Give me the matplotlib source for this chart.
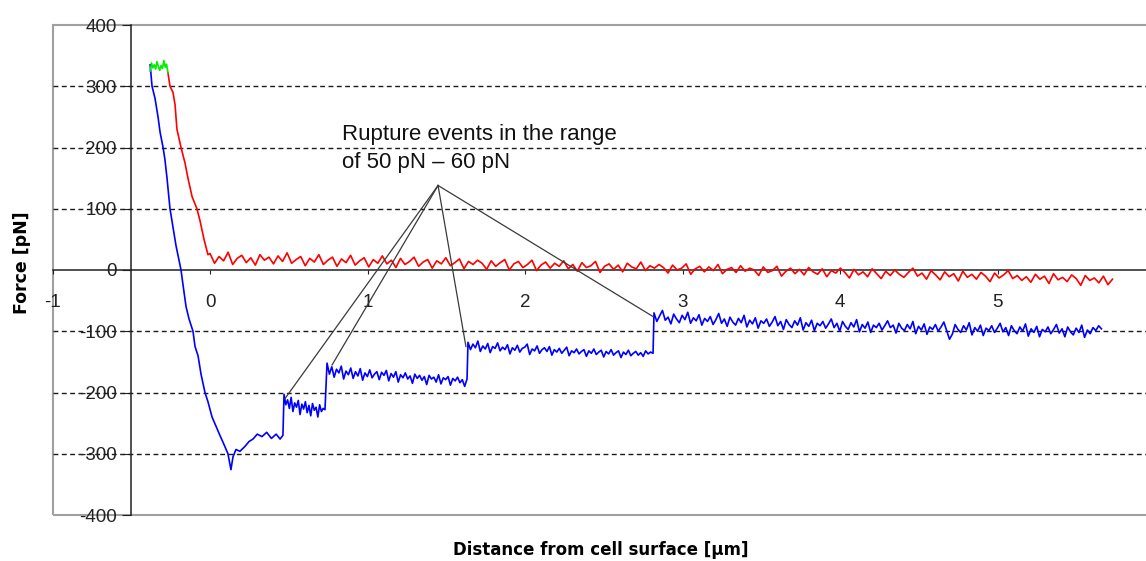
import numpy as np
import matplotlib
matplotlib.use("Agg")
import matplotlib.pyplot as plt
from matplotlib.patches import Rectangle

plt.rcParams["font.family"] = ["Liberation Sans", "DejaVu Sans"]
plt.rcParams["axes.unicode_minus"] = False

# contact plateau (green)
green_x0, green_x1 = -0.38, -0.267
green_y = [325, 338, 330, 335, 328, 340, 332, 326, 334, 329, 342, 331, 336, 322]

# approach curve (red): steep part then noisy tail
red_drop_x = [-0.267, -0.254, -0.235, -0.222, -0.21, -0.184, -0.159, -0.14,
              -0.114, -0.083, -0.063, -0.038, -0.013]
red_drop_y = [322, 300, 290, 270, 230, 200, 175, 150, 120, 100, 80, 50, 25]
red_tail_x0, red_tail_x1 = 0.0, 5.73
red_tail_y = [27, 11, 22, 15, 29, 9, 19, 24, 12, 20, 8, 25, 16, 21, 10, 23, 14, 28, 11, 17,
              22, 7, 19, 13, 25, 9, 16, 21, 6, 18, 12, 24, 8, 15, 20, 5, 17, 11, 23, 10,
              16, 4, 19, 9, 14, 21, 6, 13, 17, 3, 15, 10, 20, 7, 12, 18, 2, 14, 9, 16,
              11, 1, 15, 6, 12, 17, 0, 10, 14, 4, 9, 16, -1, 8, 13, 3, 11, 6, 15, 2,
              9, -2, 12, 4, 7, 14, -4, 6, 10, 1, 8, -3, 11, 5, 2, 13, -1, 7, 3, 9,
              4, -5, 8, 0, 3, 10, -7, 2, 6, -3, 5, -1, 9, -6, 1, 4, -4, 7, -2, 3,
              0, -9, 5, -4, -1, 6, -10, -2, 3, -6, 1, -8, 4, -3, -7, 2, -11, -1, -5, 3,
              -4, -13, 1, -8, -3, -11, 2, -6, -14, -2, -9, 0, -7, -12, -4, 3, -10, -5, -15, -1,
              -8, -16, -3, -11, -6, -18, -2, -12, -7, -15, -4, -10, -19, -5, -13, -8, -1, -14, -9, -17,
              -11, -20, -7, -15, -10, -22, -6, -16, -12, -19, -8, -14, -25, -9, -17, -13, -21, -10, -24, -15]

# retract curve (blue): descent, then plateaus between rupture steps
blue_drop_x = [-0.38, -0.368, -0.349, -0.33, -0.317, -0.298, -0.286, -0.273, -0.254, -0.235,
               -0.216, -0.184, -0.171, -0.152, -0.133, -0.108, -0.095, -0.076, -0.057, -0.032,
               -0.013, 0.013, 0.038, 0.063, 0.089, 0.114, 0.133, 0.146, 0.165, 0.19,
               0.222, 0.248, 0.273, 0.30, 0.33, 0.36, 0.39, 0.42, 0.445, 0.463]
blue_drop_y = [335, 300, 280, 250, 225, 200, 180, 150, 100, 70,
               40, 0, -25, -60, -80, -100, -125, -140, -170, -200,
               -215, -240, -255, -270, -285, -300, -326, -305, -293, -296,
               -288, -280, -276, -268, -272, -265, -275, -268, -276, -270]
plateau_ranges = [(0.47, 0.73), (0.743, 1.632), (1.638, 2.813), (2.819, 5.66)]
plateau_y = [
    [-203, -220, -212, -226, -208, -231, -217, -224, -213, -236, -219, -227,
     -215, -233, -221, -238, -218, -229, -224, -240, -220, -231, -226, -228],
    [-152, -170, -158, -175, -162, -168, -157, -178, -165, -171, -160, -177, -166, -173, -161,
     -180, -168, -174, -163, -176, -170, -166, -179, -167, -172, -164, -181, -169, -175, -166,
     -183, -171, -176, -168, -178, -173, -185, -170, -177, -172, -180, -174, -187, -172, -178,
     -175, -183, -171, -186, -176, -179, -174, -188, -177, -181, -175, -184, -179, -190, -178],
    [-118, -130, -121, -127, -116, -133, -124, -129, -120, -135, -125, -128, -119, -132, -126,
     -130, -122, -137, -127, -131, -123, -134, -128, -126, -121, -138, -129, -132, -124, -136,
     -130, -127, -133, -125, -139, -130, -134, -128, -136, -131, -126, -140, -132, -135, -129,
     -137, -133, -130, -141, -132, -136, -129, -138, -134, -131, -142, -133, -137, -130, -139,
     -135, -132, -143, -134, -138, -131, -140, -136, -133, -139, -135, -141, -132, -137, -134, -136],
    [-70, -84, -75, -66, -82, -77, -88, -72, -80, -86, -74, -81, -69, -87, -78, -83, -73, -90, -79, -84,
     -76, -89, -81, -71, -87, -80, -92, -77, -85, -90, -79, -86, -74, -93, -82, -88, -78, -95, -83, -87,
     -80, -92, -85, -76, -91, -84, -97, -81, -89, -94, -83, -90, -78, -98, -86, -92, -82, -99, -87, -91,
     -84, -95, -88, -80, -94, -87, -100, -84, -92, -97, -86, -93, -81, -101, -89, -95, -85, -102, -90, -94,
     -87, -98, -91, -83, -94, -90, -103, -87, -95, -99, -89, -96, -84, -104, -92, -98, -88, -105, -93, -97,
     -89, -100, -93, -85, -99, -113, -105, -89, -97, -102, -91, -98, -86, -106, -94, -100, -90, -107, -95, -99,
     -91, -102, -95, -87, -101, -94, -107, -91, -99, -104, -93, -100, -88, -108, -96, -102, -92, -109, -97, -101,
     -93, -104, -97, -89, -103, -96, -109, -93, -101, -106, -95, -102, -90, -110, -98, -104, -94, -99, -91, -96],
]

# rupture annotation
note_text = "Rupture events in the range\nof 50 pN \u2013 60 pN"
note_pos = (0.838, 238)
apex = (1.448, 138)
rupture_x = [0.476, 0.775, 1.625, 2.813]
rupture_y = [-210, -155, -125, -76]

grid_levels = [-300, -200, -100, 100, 200, 300]
x_ticks = [-1, 0, 1, 2, 3, 4, 5]
y_ticks = [-400, -300, -200, -100, 0, 100, 200, 300, 400]

# build series
green_x = np.linspace(green_x0, green_x1, len(green_y))
red_x = np.concatenate([red_drop_x, np.linspace(red_tail_x0, red_tail_x1, len(red_tail_y))])
red_y = np.concatenate([red_drop_y, red_tail_y])
bx = [np.array(blue_drop_x)]
by = [np.array(blue_drop_y)]
for (a, b), vals in zip(plateau_ranges, plateau_y):
    bx.append(np.linspace(a, b, len(vals)))
    by.append(np.array(vals))
blue_x = np.concatenate(bx)
blue_y = np.concatenate(by)

fig = plt.figure(figsize=(11.46, 5.61), dpi=100)
ax = fig.add_axes([52.5 / 1146, 46 / 561, 1102.5 / 1146, 490 / 561])
ax.set_xlim(-1, 6)
ax.set_ylim(-400, 400)

for s in ("top", "right"):
    ax.spines[s].set_visible(False)
ax.spines["left"].set_position(("data", -0.5))
ax.spines["bottom"].set_position(("data", 0))
for s in ("left", "bottom"):
    ax.spines[s].set_color("#202020")
    ax.spines[s].set_linewidth(1.1)
ax.add_patch(Rectangle((0, 0), 1, 1, transform=ax.transAxes, fill=False,
                       ec="#a0a0a0", lw=1.5, clip_on=False, zorder=0))

for v in grid_levels:
    ax.axhline(v, color="#1a1a1a", lw=1.0, ls=(0, (3.5, 2.5)), zorder=1)

ax.set_xticks(x_ticks)
ax.set_yticks(y_ticks)
ax.tick_params(axis="x", direction="out", length=3, pad=14, labelsize=13.5,
               color="#202020", labelcolor="#222222")
ax.tick_params(axis="y", direction="out", length=6.5, pad=4, labelsize=13.5,
               color="#202020", labelcolor="#222222")

ax.plot(red_x, red_y, color="#ff0000", lw=1.2, zorder=3)
ax.plot(blue_x, blue_y, color="#0000ff", lw=1.2, zorder=3)
ax.plot(green_x, green_y, color="#00ee00", lw=1.2, zorder=4)

for ex, ey in zip(rupture_x, rupture_y):
    ax.plot([apex[0], ex], [apex[1], ey], color="#3a3a3a", lw=0.9, zorder=5)
ax.text(note_pos[0], note_pos[1], note_text, fontsize=16, va="top", ha="left",
        linespacing=1.45, color="#111111")

fig.text(601 / 1146, 1 - 550 / 561, "Distance from cell surface [\u00b5m]",
         ha="center", va="center", fontsize=12, fontweight="bold",
         family=["DejaVu Sans"])
fig.text(22.5 / 1146, 1 - 263 / 561, "Force [pN]", rotation=90,
         ha="center", va="center", fontsize=12.5, fontweight="bold",
         family=["DejaVu Sans"])

fig.savefig("out.png", dpi=100)
